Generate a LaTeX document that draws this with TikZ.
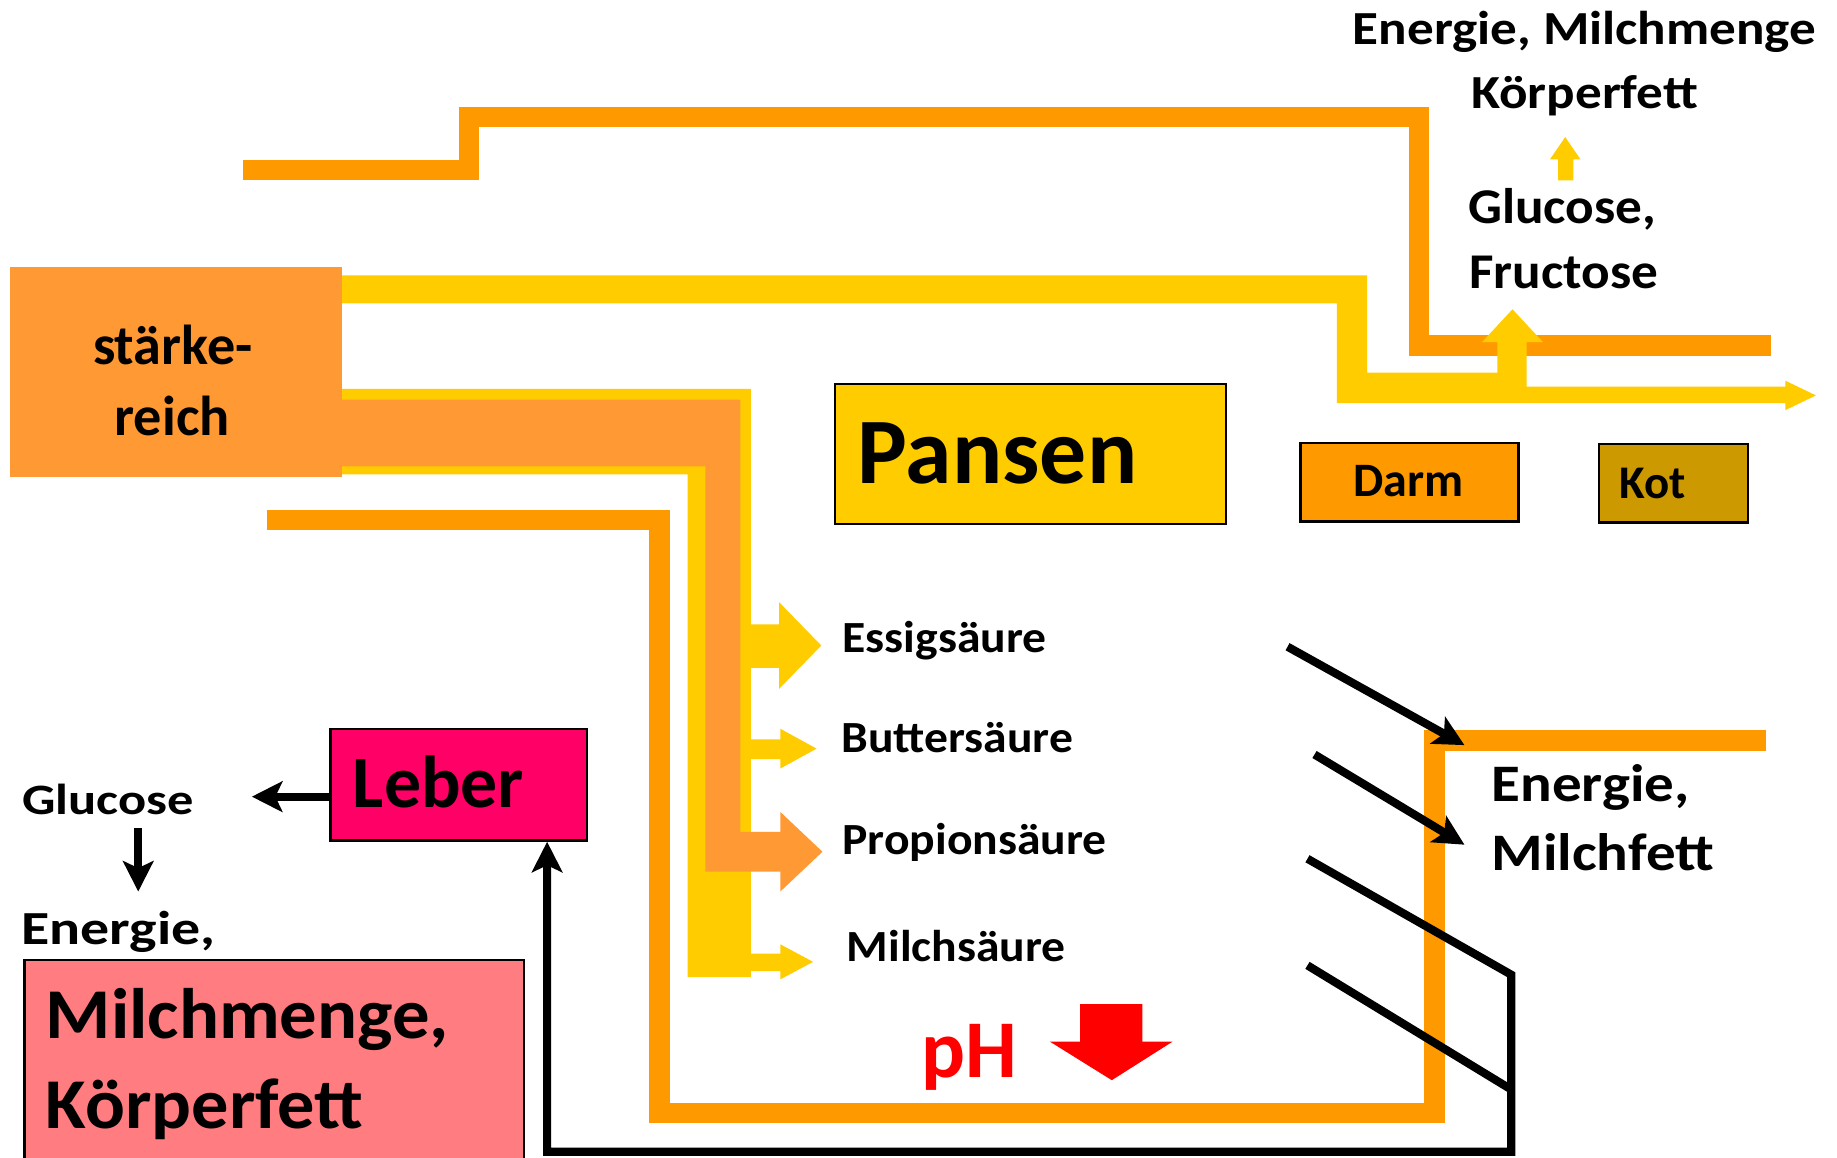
\documentclass[tikz,border=0pt]{standalone}
\usepackage{fontspec}
\setmainfont{Carlito}
\usetikzlibrary{arrows.meta}
\definecolor{dorange}{HTML}{FF9900}
\definecolor{sorange}{HTML}{FF9933}
\definecolor{pyellow}{HTML}{FFCC00}
\definecolor{kotcol}{HTML}{CC9900}
\definecolor{lebercol}{HTML}{FF0066}
\definecolor{pinkcol}{HTML}{FF7C80}
\definecolor{phred}{HTML}{FF0000}
\newcommand{\hstretch}[2]{\scalebox{#1}[1]{#2}}
\begin{document}
\begin{tikzpicture}[x=1pt,y=-1pt,
  txt/.style={inner sep=0pt, font=\bfseries},
  box/.style={draw=black, line width=2pt, inner sep=0pt, anchor=north west},
  flow/.style={dorange, line width=17.5pt},
  blk/.style={draw=black, line width=7pt},
  tip/.style={-{Stealth[length=26pt,width=26pt,inset=6pt]}},
]
\path[clip] (0,0) rectangle (1568,988);
\fill[white] (0,0) rectangle (1568,988);

% top orange flow
\draw[flow] (207,145.3) -- (400.5,145.3) -- (400.5,100) -- (1211,100) -- (1211,295) -- (1512,295);

% top yellow flow with branch arrows
\fill[pyellow] (292,235) -- (1167,235) -- (1167,318) -- (1278,318) -- (1278,292) -- (1265,292) -- (1291,264) -- (1317,292) -- (1303,292) -- (1303,330) -- (1524,330) -- (1524,325) -- (1550,337.5) -- (1524,350) -- (1524,344) -- (1141,344) -- (1141,259) -- (292,259) -- cycle;

% small yellow up arrow
\fill[pyellow] (1330,154) -- (1343,154) -- (1343,136) -- (1349,136) -- (1336,117) -- (1323,136) -- (1330,136) -- cycle;

% starch box
\node[anchor=north west, fill=sorange, minimum width=284pt, minimum height=179pt, inner sep=0pt] (starke) at (8,228) {};

% yellow L band
\fill[pyellow] (292,332) -- (641,332) -- (641,834) -- (587,834) -- (587,405) -- (292,405) -- cycle;
% yellow arrows
\fill[pyellow] (640,533) -- (665,533) -- (665,514) -- (701,551) -- (665,588) -- (665,570) -- (640,570) -- cycle;
\fill[pyellow] (640,631) -- (666,631) -- (666,622) -- (697,639) -- (666,656) -- (666,648) -- (640,648) -- cycle;
\fill[pyellow] (640,814) -- (666,814) -- (666,806) -- (694,821) -- (666,836) -- (666,829) -- (640,829) -- cycle;
% orange L band with arrow
\fill[sorange] (292,341) -- (632,341) -- (632,710) -- (666,710) -- (666,693) -- (702,727) -- (666,761) -- (666,744) -- (602,744) -- (602,398) -- (292,398) -- cycle;

% lower orange flow
\draw[flow] (228,444) -- (563,444) -- (563,950) -- (1224.5,950) -- (1224.5,632) -- (1507,632);

% boxes
\node[box, fill=pyellow, minimum width=334pt, minimum height=119pt] (pansen) at (711.5,327) {};
\node[box, fill=dorange, minimum width=186pt, minimum height=67pt] (darm) at (1109,377) {};
\node[box, fill=kotcol, minimum width=127pt, minimum height=67pt] (kot) at (1364,378) {};
\node[box, fill=lebercol, minimum width=219pt, minimum height=95pt] (leber) at (281,621.5) {};
\node[box, fill=pinkcol, minimum width=426pt, minimum height=200pt] (milch) at (20,818.5) {};

% red arrow
\fill[phred] (922,857) -- (975,857) -- (975,889) -- (1001,889) -- (949,922) -- (896,889) -- (922,889) -- cycle;

% texts
\node[txt, anchor=base, font=\fontsize{48}{58}\bfseries] (t1) at (147.5,311.5) {stärke-};
\node[txt, anchor=base, font=\fontsize{48}{58}\bfseries] (t2) at (147,371.3) {reich};
\node[txt, anchor=base west, font=\fontsize{80}{96}\bfseries] (t3) at (732,412.6) {Pansen};
\node[txt, anchor=base, font=\fontsize{41}{50}\bfseries] (t4) at (1202,424) {Darm};
\node[txt, anchor=base west, font=\fontsize{40}{48}\bfseries] (t5) at (1382,425.3) {Kot};
\node[txt, anchor=base west, font=\fontsize{63}{76}\bfseries] (t6) at (301,689) {Leber};
\node[txt, anchor=base west, font=\fontsize{61}{72}\bfseries] (t7) at (39,886) {\hstretch{1.045}{Milchmenge,}};
\node[txt, anchor=base west, font=\fontsize{61}{72}\bfseries] (t8) at (39,963) {\hstretch{1.04}{Körperfett}};
\node[txt, anchor=base west, font=\fontsize{37}{46}\bfseries] (glc) at (19,695.6) {\hstretch{1.21}{Glucose}};
\node[txt, anchor=base west, font=\fontsize{40.5}{48}\bfseries] (t10) at (18,806.6) {\hstretch{1.22}{Energie,}};
\node[txt, anchor=base west, font=\fontsize{38}{46}\bfseries] (t11) at (719,556.7) {\hstretch{1.07}{Essigsäure}};
\node[txt, anchor=base west, font=\fontsize{38}{46}\bfseries] (t12) at (718,642) {\hstretch{1.07}{Buttersäure}};
\node[txt, anchor=base west, font=\fontsize{38}{46}\bfseries] (t13) at (719,729) {\hstretch{1.07}{Propionsäure}};
\node[txt, anchor=base west, font=\fontsize{38}{46}\bfseries] (t14) at (722.5,820.4) {\hstretch{1.07}{Milchsäure}};
\node[txt, anchor=base, font=\fontsize{40.5}{48}\bfseries] (t15) at (1352.5,38.4) {\hstretch{1.12}{Energie, Milchmenge}};
\node[txt, anchor=base, font=\fontsize{40.5}{48}\bfseries] (t16) at (1352.5,92.5) {\hstretch{1.12}{Körperfett}};
\node[txt, anchor=base west, font=\fontsize{42.7}{52}\bfseries] (t17) at (1253,190.6) {\hstretch{1.065}{Glucose,}};
\node[txt, anchor=base west, font=\fontsize{42.7}{52}\bfseries] (t18) at (1254,246) {\hstretch{1.065}{Fructose}};
\node[txt, anchor=base west, font=\fontsize{45}{54}\bfseries] (t19) at (1273,684.3) {\hstretch{1.12}{Energie,}};
\node[txt, anchor=base west, font=\fontsize{45}{54}\bfseries] (t20) at (1273,742.6) {\hstretch{1.12}{Milchfett}};
\node[txt, anchor=base west, text=phred, font=\fontsize{70}{84}\bfseries] (ph) at (786,920) {pH};

% black connectors
\coordinate (a1s) at (1099,552); \coordinate (a1e) at (1250,636);
\coordinate (a2s) at (1122,644); \coordinate (a2e) at (1250,721);
\coordinate (a3s) at (1116,733); \coordinate (a3m) at (1290,832);
\coordinate (a3c) at (1290,983); \coordinate (a3d) at (467,983);
\coordinate (a4s) at (1116,824); \coordinate (a4e) at (1290,930);
\coordinate (lw) at (281,680); \coordinate (gtip) at (215,680);
\coordinate (gd1) at (118,707); \coordinate (gd2) at (118,761);
\draw[blk, tip] (a1s) -- (a1e);
\draw[blk, tip] (a2s) -- (a2e);
\draw[blk, tip] (a3s) -- (a3m) -- (a3c) -- (a3d) -- (a3d |- leber.south);
\draw[blk] (a4s) -- (a4e);
\draw[blk, tip] (lw) -- (gtip);
\draw[blk, tip] (gd1) -- (gd2);
\end{tikzpicture}
\end{document}
